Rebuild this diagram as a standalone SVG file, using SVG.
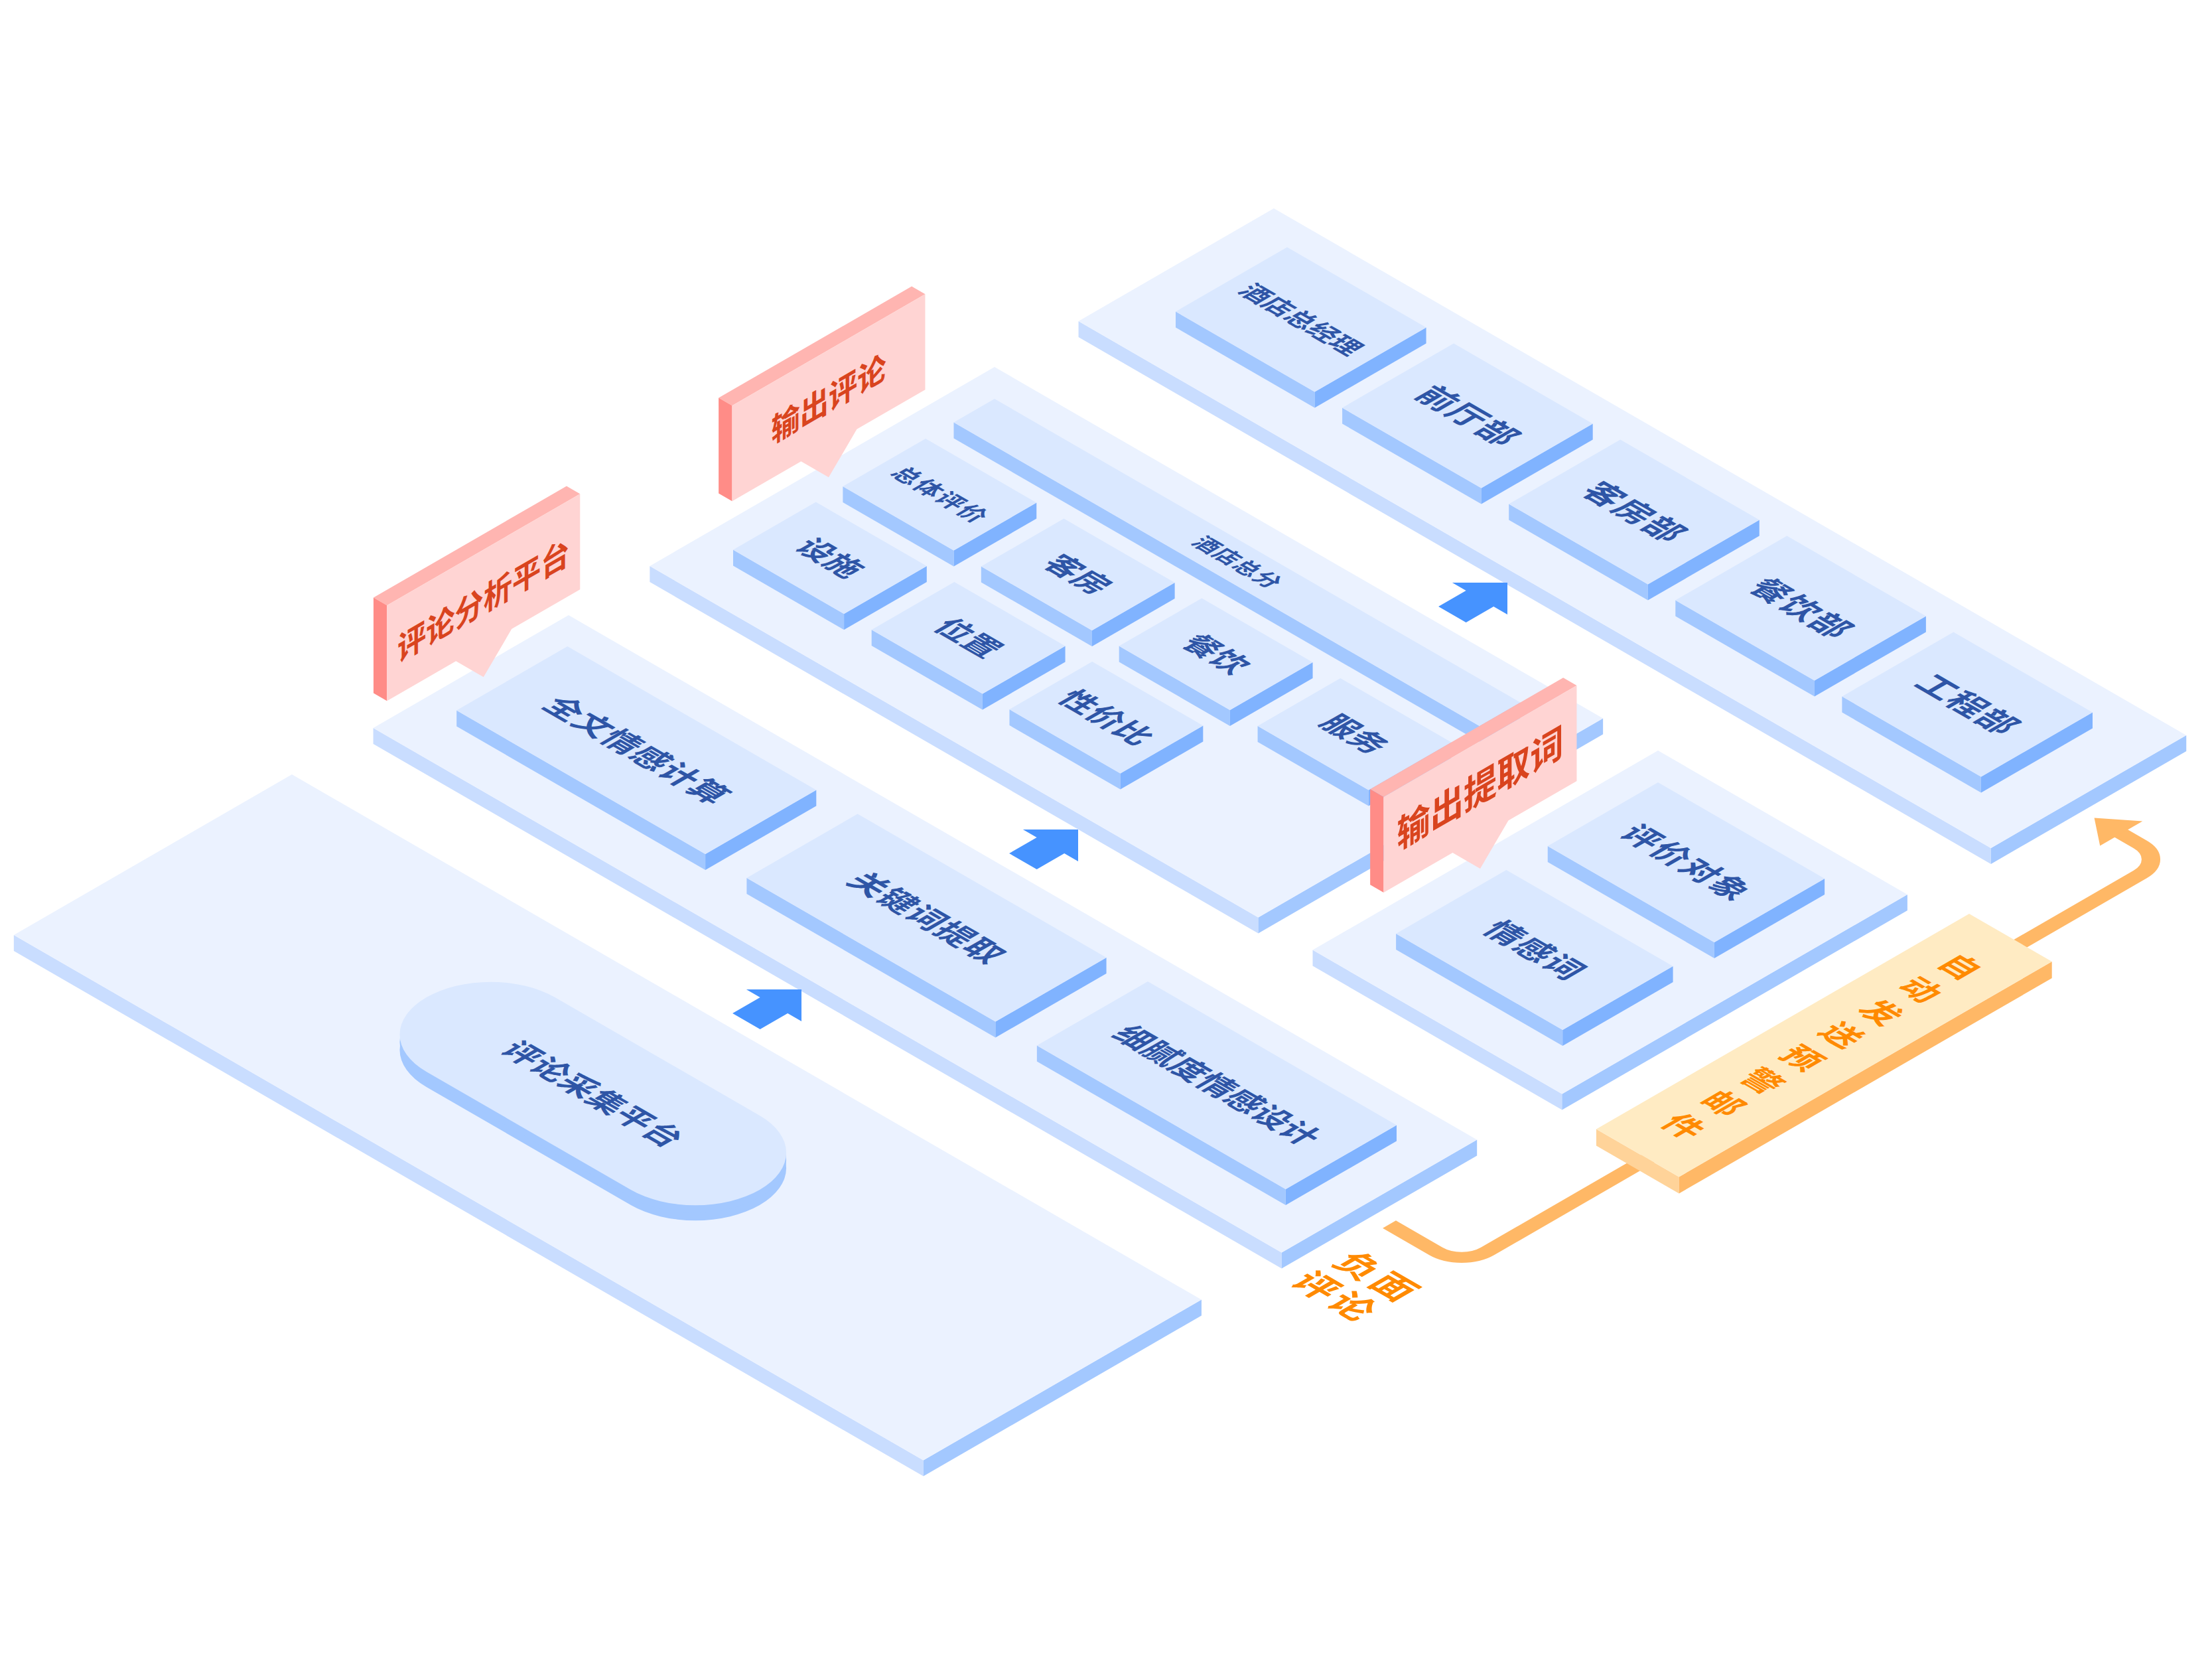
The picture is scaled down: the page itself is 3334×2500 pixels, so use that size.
<svg xmlns="http://www.w3.org/2000/svg" width="3334" height="2500" viewBox="0 0 3334 2500">
<style>
.pt{fill:#EBF2FF}.pl{fill:#C9DDFF}.pr{fill:#A3C8FF}
.bt{fill:#DAE8FF}.bl{fill:#A3C8FF}.br{fill:#80B3FF}
.lbl{font-family:'Noto Sans CJK SC','Noto Sans',sans-serif;font-weight:700;fill:#2E55A6;text-anchor:middle}
.sf{fill:#FFD4D3}.st{fill:#FFB5B1}.ss{fill:#FF8C87}
.stx{font-family:'Noto Sans CJK SC','Noto Sans',sans-serif;font-weight:700;fill:#D9441E;text-anchor:middle}
.ot{fill:#FFEBC3}.ol{fill:#FFD399}.or{fill:#FFB866}
.otx{font-family:'Noto Sans CJK SC','Noto Sans',sans-serif;font-weight:700;fill:#FF8A00;text-anchor:middle}
.arw{fill:#4693FF}
</style>
<rect width="3334" height="2500" fill="#FFFFFF"/>

<!-- Platform D: departments -->
<g id="platform-dept" transform="translate(1920,314)">
<rect class="pl" width="1588" height="24" transform="matrix(.866,.5,0,1,-294.45,170)"/>
<rect class="pr" width="340" height="24" transform="matrix(-.866,.5,0,1,1375.25,794)"/>
<rect class="pt" width="1588" height="340" transform="matrix(.866,.5,-.866,.5,0,0)"/>
</g>
<g id="node-gm" transform="translate(1940,372.5)">
<rect class="bl" width="242" height="24" transform="matrix(.866,.5,0,1,-168.01,97)"/>
<rect class="br" width="194" height="24" transform="matrix(-.866,.5,0,1,209.58,121)"/>
<g transform="matrix(.866,.5,-.866,.5,0,0)"><rect class="bt" width="242" height="194"/><text class="lbl" x="121" y="111" font-size="39">酒店总经理</text></g>
</g>
<g id="node-front" transform="translate(2191.1,517.5)">
<rect class="bl" width="242" height="24" transform="matrix(.866,.5,0,1,-168.01,97)"/>
<rect class="br" width="194" height="24" transform="matrix(-.866,.5,0,1,209.58,121)"/>
<g transform="matrix(.866,.5,-.866,.5,0,0)"><rect class="bt" width="242" height="194"/><text class="lbl" x="122" y="115" font-size="50" letter-spacing="2">前厅部</text></g>
</g>
<g id="node-rooms" transform="translate(2442.2,662.5)">
<rect class="bl" width="242" height="24" transform="matrix(.866,.5,0,1,-168.01,97)"/>
<rect class="br" width="194" height="24" transform="matrix(-.866,.5,0,1,209.58,121)"/>
<g transform="matrix(.866,.5,-.866,.5,0,0)"><rect class="bt" width="242" height="194"/><text class="lbl" x="122" y="115" font-size="50" letter-spacing="2">客房部</text></g>
</g>
<g id="node-fb" transform="translate(2693.3,807.5)">
<rect class="bl" width="242" height="24" transform="matrix(.866,.5,0,1,-168.01,97)"/>
<rect class="br" width="194" height="24" transform="matrix(-.866,.5,0,1,209.58,121)"/>
<g transform="matrix(.866,.5,-.866,.5,0,0)"><rect class="bt" width="242" height="194"/><text class="lbl" x="122" y="115" font-size="50" letter-spacing="2">餐饮部</text></g>
</g>
<g id="node-eng" transform="translate(2944.4,952.5)">
<rect class="bl" width="242" height="24" transform="matrix(.866,.5,0,1,-168.01,97)"/>
<rect class="br" width="194" height="24" transform="matrix(-.866,.5,0,1,209.58,121)"/>
<g transform="matrix(.866,.5,-.866,.5,0,0)"><rect class="bt" width="242" height="194"/><text class="lbl" x="122" y="115" font-size="50" letter-spacing="2">工程部</text></g>
</g>

<!-- Platform C: output comments -->
<g id="platform-output" transform="translate(1499,553)">
<rect class="pl" width="1059" height="24" transform="matrix(.866,.5,0,1,-519.62,300)"/>
<rect class="pr" width="600" height="24" transform="matrix(-.866,.5,0,1,917.12,529.5)"/>
<rect class="pt" width="1059" height="600" transform="matrix(.866,.5,-.866,.5,0,0)"/>
</g>
<g id="node-total" transform="translate(1499,601)">
<rect class="bl" width="915" height="24" transform="matrix(.866,.5,0,1,-61.49,35.5)"/>
<rect class="br" width="71" height="24" transform="matrix(-.866,.5,0,1,792.41,457.5)"/>
<g transform="matrix(.866,.5,-.866,.5,0,0)"><rect class="bt" width="915" height="71"/><text class="lbl" x="458" y="47.5" font-size="34" letter-spacing="1">酒店总分</text></g>
</g>
<g id="node-overall" transform="translate(1395.1,661)">
<rect class="bl" width="193" height="24" transform="matrix(.866,.5,0,1,-124.71,72)"/>
<rect class="br" width="144" height="24" transform="matrix(-.866,.5,0,1,167.14,96.5)"/>
<g transform="matrix(.866,.5,-.866,.5,0,0)"><rect class="bt" width="193" height="144"/><text class="lbl" x="97.5" y="85" font-size="36" letter-spacing="2">总体评价</text></g>
</g>
<g id="node-facility" transform="translate(1229.7,756.5)">
<rect class="bl" width="193" height="24" transform="matrix(.866,.5,0,1,-124.71,72)"/>
<rect class="br" width="144" height="24" transform="matrix(-.866,.5,0,1,167.14,96.5)"/>
<g transform="matrix(.866,.5,-.866,.5,0,0)"><rect class="bt" width="193" height="144"/><text class="lbl" x="96.5" y="89" font-size="47">设施</text></g>
</g>
<g id="node-room" transform="translate(1603.5,781.5)">
<rect class="bl" width="193" height="24" transform="matrix(.866,.5,0,1,-124.71,72)"/>
<rect class="br" width="144" height="24" transform="matrix(-.866,.5,0,1,167.14,96.5)"/>
<g transform="matrix(.866,.5,-.866,.5,0,0)"><rect class="bt" width="193" height="144"/><text class="lbl" x="96.5" y="89" font-size="47">客房</text></g>
</g>
<g id="node-location" transform="translate(1438.4,877)">
<rect class="bl" width="193" height="24" transform="matrix(.866,.5,0,1,-124.71,72)"/>
<rect class="br" width="144" height="24" transform="matrix(-.866,.5,0,1,167.14,96.5)"/>
<g transform="matrix(.866,.5,-.866,.5,0,0)"><rect class="bt" width="193" height="144"/><text class="lbl" x="96.5" y="89" font-size="47">位置</text></g>
</g>
<g id="node-dining" transform="translate(1811.4,901.5)">
<rect class="bl" width="193" height="24" transform="matrix(.866,.5,0,1,-124.71,72)"/>
<rect class="br" width="144" height="24" transform="matrix(-.866,.5,0,1,167.14,96.5)"/>
<g transform="matrix(.866,.5,-.866,.5,0,0)"><rect class="bt" width="193" height="144"/><text class="lbl" x="96.5" y="89" font-size="47">餐饮</text></g>
</g>
<g id="node-value" transform="translate(1646.2,997)">
<rect class="bl" width="193" height="24" transform="matrix(.866,.5,0,1,-124.71,72)"/>
<rect class="br" width="144" height="24" transform="matrix(-.866,.5,0,1,167.14,96.5)"/>
<g transform="matrix(.866,.5,-.866,.5,0,0)"><rect class="bt" width="193" height="144"/><text class="lbl" x="96.5" y="89" font-size="47">性价比</text></g>
</g>
<g id="node-service" transform="translate(2020.3,1022)">
<rect class="bl" width="193" height="24" transform="matrix(.866,.5,0,1,-124.71,72)"/>
<rect class="br" width="144" height="24" transform="matrix(-.866,.5,0,1,167.14,96.5)"/>
<g transform="matrix(.866,.5,-.866,.5,0,0)"><rect class="bt" width="193" height="144"/><text class="lbl" x="96.5" y="89" font-size="47">服务</text></g>
</g>

<!-- Platform B: analysis -->
<g id="platform-analysis" transform="translate(857,927)">
<rect class="pl" width="1581" height="24" transform="matrix(.866,.5,0,1,-294.45,170)"/>
<rect class="pr" width="340" height="24" transform="matrix(-.866,.5,0,1,1369.19,790.5)"/>
<rect class="pt" width="1581" height="340" transform="matrix(.866,.5,-.866,.5,0,0)"/>
</g>
<g id="node-fulltext" transform="translate(855.3,974)">
<rect class="bl" width="433" height="24" transform="matrix(.866,.5,0,1,-167.14,96.5)"/>
<rect class="br" width="193" height="24" transform="matrix(-.866,.5,0,1,374.99,216.5)"/>
<g transform="matrix(.866,.5,-.866,.5,0,0)"><rect class="bt" width="433" height="193"/><text class="lbl" x="217" y="114" font-size="49" letter-spacing="1">全文情感计算</text></g>
</g>
<g id="node-keyword" transform="translate(1292.6,1226.5)">
<rect class="bl" width="433" height="24" transform="matrix(.866,.5,0,1,-167.14,96.5)"/>
<rect class="br" width="193" height="24" transform="matrix(-.866,.5,0,1,374.99,216.5)"/>
<g transform="matrix(.866,.5,-.866,.5,0,0)"><rect class="bt" width="433" height="193"/><text class="lbl" x="217" y="114" font-size="49" letter-spacing="1">关键词提取</text></g>
</g>
<g id="node-fine" transform="translate(1730,1479)">
<rect class="bl" width="433" height="24" transform="matrix(.866,.5,0,1,-167.14,96.5)"/>
<rect class="br" width="193" height="24" transform="matrix(-.866,.5,0,1,374.99,216.5)"/>
<g transform="matrix(.866,.5,-.866,.5,0,0)"><rect class="bt" width="433" height="193"/><text class="lbl" x="217" y="114" font-size="48">细腻度情感设计</text></g>
</g>

<!-- Platform A: collection -->
<g id="platform-collect" transform="translate(440,1167)">
<rect class="pl" width="1583" height="24" transform="matrix(.866,.5,0,1,-419.16,242)"/>
<rect class="pr" width="484" height="24" transform="matrix(-.866,.5,0,1,1370.92,791.5)"/>
<rect class="pt" width="1583" height="484" transform="matrix(.866,.5,-.866,.5,0,0)"/>
</g>
<g id="node-collect">
<rect x="476" y="130" width="580" height="224" rx="112" fill="#A3C8FF" transform="matrix(.866,.5,-.866,.5,440,1167)"/>
<rect x="476" y="130" width="580" height="224" rx="112" fill="#A3C8FF" transform="matrix(.866,.5,-.866,.5,440,1155.5)"/>
<g transform="matrix(.866,.5,-.866,.5,440,1144)"><rect x="476" y="130" width="580" height="224" rx="112" class="bt"/><text class="lbl" x="767" y="260" font-size="48" letter-spacing="1">评论采集平台</text></g>
</g>

<!-- Platform E: extracted words -->
<g id="platform-words" transform="translate(2499,1131)">
<rect class="pl" width="434" height="24" transform="matrix(.866,.5,0,1,-520.48,300.5)"/>
<rect class="pr" width="601" height="24" transform="matrix(-.866,.5,0,1,375.85,217)"/>
<rect class="pt" width="434" height="601" transform="matrix(.866,.5,-.866,.5,0,0)"/>
</g>
<g id="node-object" transform="translate(2499,1179)">
<rect class="bl" width="290" height="24" transform="matrix(.866,.5,0,1,-166.28,96)"/>
<rect class="br" width="192" height="24" transform="matrix(-.866,.5,0,1,251.15,145)"/>
<g transform="matrix(.866,.5,-.866,.5,0,0)"><rect class="bt" width="290" height="192"/><text class="lbl" x="146" y="114" font-size="49" letter-spacing="2">评价对象</text></g>
</g>
<g id="node-sentiment" transform="translate(2270.4,1311)">
<rect class="bl" width="290" height="24" transform="matrix(.866,.5,0,1,-166.28,96)"/>
<rect class="br" width="192" height="24" transform="matrix(-.866,.5,0,1,251.15,145)"/>
<g transform="matrix(.866,.5,-.866,.5,0,0)"><rect class="bt" width="290" height="192"/><text class="lbl" x="146" y="114" font-size="49" letter-spacing="2">情感词</text></g>
</g>

<!-- Connectors -->
<g id="connectors">
<g transform="matrix(.866,.5,-.866,.5,0,0)">
<path d="M3054,636 H3135 A45,45 0 0 0 3180,591 V-545 A45,45 0 0 0 3135,-590 H3098" fill="none" stroke="#FFB866" stroke-width="23"/>
<polygon points="3055,-590 3102,-627 3102,-553" fill="#FFB866"/>
</g>
<polygon class="arw" points="0,0 -48,48 -48,24 -96,24 -96,-24 -48,-24 -48,-48" transform="matrix(.866,-.5,.866,.5,1208,1491)"/>
<polygon class="arw" points="0,0 -48,48 -48,24 -96,24 -96,-24 -48,-24 -48,-48" transform="matrix(.866,-.5,.866,.5,1625,1250)"/>
<polygon class="arw" points="0,0 -48,48 -48,24 -96,24 -96,-24 -48,-24 -48,-48" transform="matrix(.866,-.5,.866,.5,2272,878)"/>
</g>

<!-- Orange alert node -->
<g id="node-alert" transform="translate(2968,1377)">
<rect class="ol" width="144" height="25" transform="matrix(.866,.5,0,1,-562.04,324.5)"/>
<rect class="or" width="649" height="25" transform="matrix(-.866,.5,0,1,124.71,72)"/>
<g transform="matrix(.866,.5,-.866,.5,0,0)"><rect class="ot" width="144" height="649"/>
<text class="otx" font-size="50"><tspan x="72" y="106">自</tspan><tspan x="72" y="175">动</tspan><tspan x="72" y="244">发</tspan><tspan x="72" y="312">送</tspan><tspan x="72" y="381">预</tspan><tspan x="72" y="450">警</tspan><tspan x="72" y="518">邮</tspan><tspan x="72" y="587">件</tspan></text>
</g>
</g>

<!-- Signs -->
<g id="sign-analysis" transform="matrix(.866,-.5,0,1,583.3,912.3)">
<polygon class="st" points="0,0 336,0 312.5,-23.5 -23.5,-23.5"/>
<polygon class="ss" points="0,0 0,144 -23.5,120.5 -23.5,-23.5"/>
<path class="sf" d="M0,0 H336 V144 H217 L168,192 L120,144 H0 Z"/>
<text class="stx" x="168" y="95" font-size="50">评论分析平台</text>
</g>
<g id="sign-output" transform="matrix(.866,-.5,0,1,1103.5,611.3)">
<polygon class="st" points="0,0 336,0 312.5,-23.5 -23.5,-23.5"/>
<polygon class="ss" points="0,0 0,144 -23.5,120.5 -23.5,-23.5"/>
<path class="sf" d="M0,0 H336 V144 H217 L168,192 L120,144 H0 Z"/>
<text class="stx" x="168" y="92" font-size="50">输出评论</text>
</g>
<g id="sign-extract" transform="matrix(.866,-.5,0,1,2085.5,1201)">
<polygon class="st" points="0,0 336,0 312.5,-23.5 -23.5,-23.5"/>
<polygon class="ss" points="0,0 0,144 -23.5,120.5 -23.5,-23.5"/>
<path class="sf" d="M0,0 H336 V144 H217 L168,192 L120,144 H0 Z"/>
<text class="stx" x="168" y="92" font-size="58">输出提取词</text>
</g>

<!-- Negative comment label -->
<g id="label-negative" transform="matrix(.866,.5,-.866,.5,0,0)">
<text class="otx" font-size="56" letter-spacing="6"><tspan x="3124" y="746">负面</tspan><tspan x="3117" y="812">评论</tspan></text>
</g>
</svg>
